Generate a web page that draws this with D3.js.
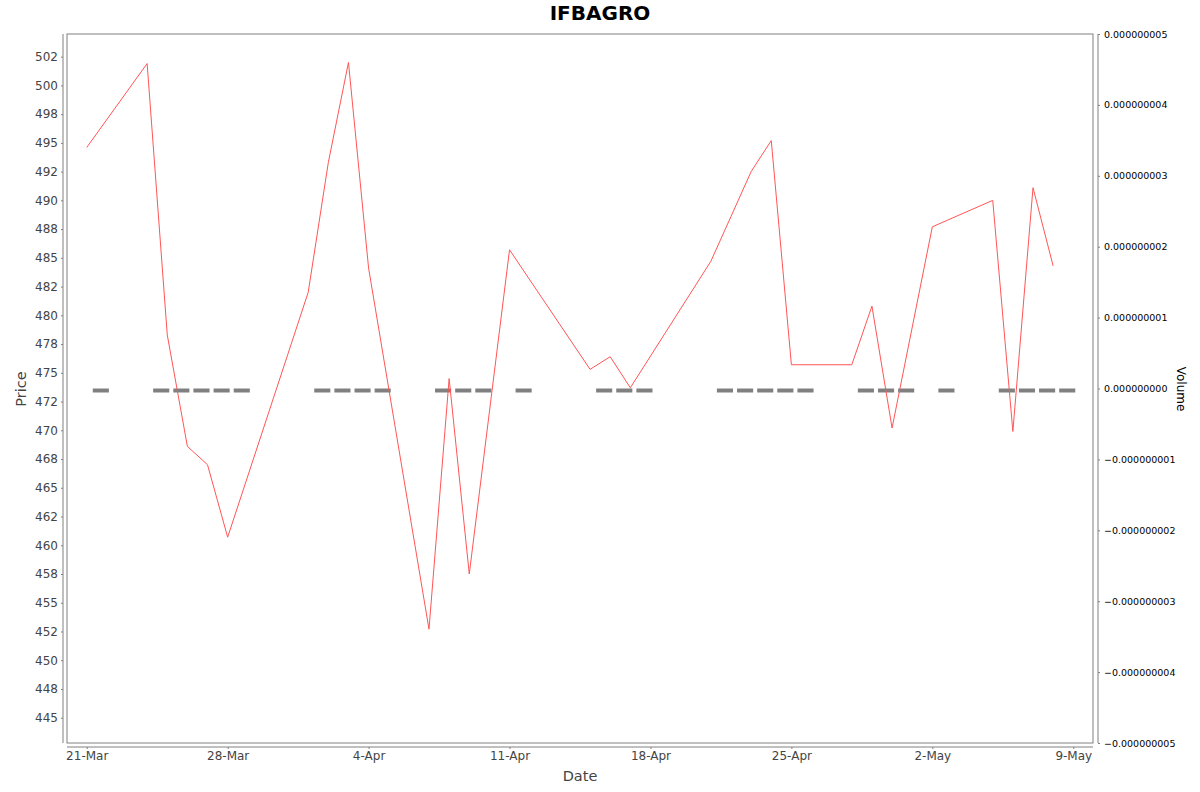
<!DOCTYPE html>
<html>
<head>
<meta charset="utf-8">
<script src="https://cdn.jsdelivr.net/npm/d3@7/dist/d3.min.js"></script>
<style>
  html, body { margin: 0; padding: 0; background: #fff; }
  svg { display: block; font-family: "DejaVu Sans", sans-serif; }
</style>
</head>
<body>
<svg id="chart" width="1200" height="792"></svg>
<script>
// ---- data ----
const title = "IFBAGRO";
const dates = ["2025-03-21","2025-03-24","2025-03-25","2025-03-26","2025-03-27","2025-03-28",
  "2025-04-01","2025-04-02","2025-04-03","2025-04-04","2025-04-07","2025-04-08","2025-04-09",
  "2025-04-11","2025-04-15","2025-04-16","2025-04-17","2025-04-21","2025-04-22","2025-04-23",
  "2025-04-24","2025-04-25","2025-04-28","2025-04-29","2025-04-30","2025-05-02","2025-05-05",
  "2025-05-06","2025-05-07","2025-05-08"];
const prices = [494.6, 501.9, 478.3, 468.6, 467.0, 460.7,
  482.0, 493.3, 502.0, 484.1, 452.7, 474.5, 457.5,
  485.7, 475.3, 476.4, 473.7, 484.7, 488.6, 492.5,
  495.2, 475.7, 475.7, 480.8, 470.2, 487.7, 490.0,
  469.9, 491.1, 484.3];
const volumes = dates.map(() => 0);
const priceTicks = d3.range(445, 502.5 + 0.001, 2.5);
const volumeTicks = [-5e-9,-4e-9,-3e-9,-2e-9,-1e-9,0,1e-9,2e-9,3e-9,4e-9,5e-9];
const dateTicks = ["2025-03-21","2025-03-28","2025-04-04","2025-04-11","2025-04-18","2025-04-25","2025-05-02","2025-05-09"];

// ---- layout ----
const svg = d3.select("#chart");
const L = 67, R = 1093, T = 34, B = 743;
const parse = d3.utcParse("%Y-%m-%d");
const DAY = 864e5;

const x = d3.scaleUtc()
  .domain([new Date(parse("2025-03-21").getTime() - 0.98 * DAY), new Date(parse("2025-05-09").getTime() + 0.98 * DAY)])
  .range([L, R]);
const y = d3.scaleLinear().domain([442.8, 504.47]).range([B, T]);
const yv = d3.scaleLinear().domain([-5e-9, 5e-9]).range([B, T]);

// Java-style HALF_EVEN rounding for tick labels
function halfEven(v) {
  const f = Math.floor(v), d = v - f;
  if (Math.abs(d - 0.5) < 1e-9) return (f % 2 === 0) ? f : f + 1;
  return Math.round(v);
}

// title
svg.append("text").attr("x", 600).attr("y", 20).attr("text-anchor", "middle")
  .attr("font-size", 20).attr("font-weight", "bold").attr("fill", "#000").text(title);

// plot frame
svg.append("rect").attr("x", L).attr("y", T).attr("width", R - L).attr("height", B - T)
  .attr("fill", "#fff").attr("stroke", "#808080").attr("stroke-width", 1);

// volume bars
const barW = x(new Date(parse("2025-03-21").getTime() + 0.8 * DAY)) - x(parse("2025-03-21"));
svg.append("g").selectAll("rect").data(dates).join("rect")
  .attr("x", d => x(new Date(parse(d).getTime() + 0.7 * DAY)) - barW / 2)
  .attr("y", (d, i) => yv(volumes[i]))
  .attr("width", barW)
  .attr("height", 4)
  .attr("fill", "#808080");

// price line
const line = d3.line().x((d, i) => x(parse(dates[i]))).y(d => y(d));
svg.append("path").datum(prices).attr("d", line)
  .attr("fill", "none").attr("stroke", "#ff5555").attr("stroke-width", 1);

// left axis
const gl = svg.append("g").attr("transform", "translate(63,0)")
  .call(d3.axisLeft(y).tickValues(priceTicks).tickSize(2).tickPadding(3).tickFormat(d => halfEven(d)));
gl.select(".domain").attr("d", `M0,${T}V${B}`).attr("stroke", "#808080");
gl.selectAll(".tick line").attr("stroke", "#808080");
gl.selectAll(".tick text").attr("font-size", 12).attr("fill", "#444").attr("font-family", "DejaVu Sans");

// right axis
const gr = svg.append("g").attr("transform", "translate(1098,0)")
  .call(d3.axisRight(yv).tickValues(volumeTicks).tickSize(2).tickPadding(4).tickFormat(d => d3.format(".9f")(d)));
gr.select(".domain").attr("d", `M0,${T}V${B}`).attr("stroke", "#808080");
gr.selectAll(".tick line").attr("stroke", "#808080");
gr.selectAll(".tick text").attr("font-size", 9.5).attr("fill", "#000").attr("font-family", "DejaVu Sans");

// bottom axis
const fmt = d3.utcFormat("%-d-%b");
const gb = svg.append("g").attr("transform", "translate(0,747)")
  .call(d3.axisBottom(x).tickValues(dateTicks.map(parse)).tickSize(2).tickPadding(2).tickFormat(fmt));
gb.select(".domain").attr("d", `M${L},0H${R}`).attr("stroke", "#808080");
gb.selectAll(".tick line").attr("stroke", "#808080");
gb.selectAll(".tick text").attr("font-size", 12).attr("fill", "#444").attr("font-family", "DejaVu Sans");

// axis labels
svg.append("text").attr("x", 580).attr("y", 781).attr("text-anchor", "middle")
  .attr("font-size", 14.5).attr("fill", "#444").text("Date");
svg.append("text").attr("transform", "translate(26,389) rotate(-90)").attr("text-anchor", "middle")
  .attr("font-size", 14.5).attr("fill", "#444").text("Price");
svg.append("text").attr("transform", "translate(1177,389) rotate(90)").attr("text-anchor", "middle")
  .attr("font-size", 12).attr("fill", "#000").text("Volume");
</script>
</body>
</html>
